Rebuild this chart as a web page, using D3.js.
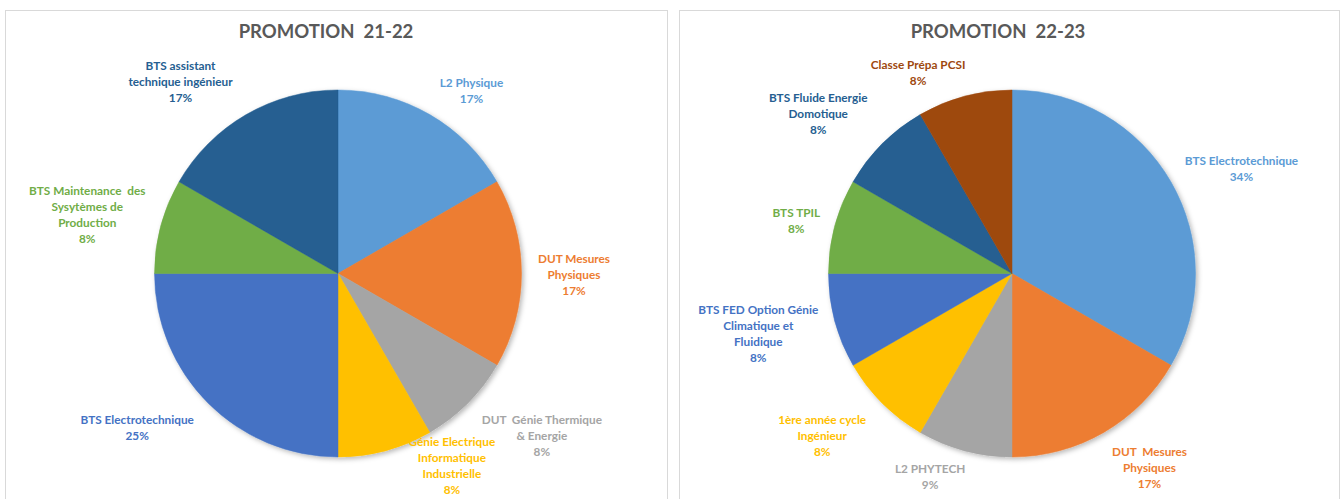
<!DOCTYPE html>
<html><head><meta charset="utf-8">
<script src="https://cdn.jsdelivr.net/npm/d3@7"></script>
<style>
html,body{margin:0;padding:0;background:#fff;}
svg{display:block;}
text{font-family:Lato,"Open Sans",sans-serif;}
</style></head>
<body><svg id="c" width="1344" height="499"></svg>
<script>
// ---- data: PROMOTION 21-22
const cats1 = [["L2 Physique"],["DUT Mesures","Physiques"],["DUT  Génie Thermique","& Energie"],["Génie Electrique","Informatique","Industrielle"],["BTS Electrotechnique"],["BTS Maintenance  des","Sysytèmes de","Production"],["BTS assistant","technique ingénieur"]];
const vals1 = [2,2,1,1,3,1,2];
const pct1 = ["17%","17%","8%","8%","25%","8%","17%"];
// ---- data: PROMOTION 22-23
const cats2 = [["BTS Electrotechnique"],["DUT  Mesures","Physiques"],["L2 PHYTECH"],["1ère année cycle","Ingénieur"],["BTS FED Option Génie","Climatique et","Fluidique"],["BTS TPIL"],["BTS Fluide Energie","Domotique"],["Classe Prépa PCSI"]];
const vals2 = [4,2,1,1,1,1,1,1];
const pct2 = ["34%","17%","9%","8%","8%","8%","8%","8%"];
const titles = ["PROMOTION  21-22","PROMOTION  22-23"];

// ---- styling / layout
const colors1 = ["#5B9BD5","#ED7D31","#A5A5A5","#FFC000","#4472C4","#70AD47","#255E91"];
const colors2 = ["#5B9BD5","#ED7D31","#A5A5A5","#FFC000","#4472C4","#70AD47","#255E91","#9E480E"];
const nudge1 = [[12,28],[-7,1],[32,-9],[51,-42],[-29,-17],[-16,4],[-36,19]];
const nudge2 = [[19,17],[16,-16],[-19,-31],[-18,-9],[-19,-3],[19,10],[-22,12],[-31,34]];

const svg = d3.select("#c");
const defs = svg.append("defs");
const f = defs.append("filter").attr("id","sh").attr("x","-10%").attr("y","-10%").attr("width","130%").attr("height","130%");
f.append("feDropShadow").attr("dx",2).attr("dy",2).attr("stdDeviation",2.5).attr("flood-color","#000").attr("flood-opacity",0.28);

const panels = [
  {x:5.5, w:662, cx:338, tx:326, title:titles[0], cats:cats1, vals:vals1, pct:pct1, colors:colors1, nudge:nudge1},
  {x:679.5, w:660, cx:1012, tx:998, title:titles[1], cats:cats2, vals:vals2, pct:pct2, colors:colors2, nudge:nudge2}
];
const cy = 273.5, R = 183.5, labelR = 243, lh = 16;

panels.forEach(p => {
  svg.append("rect").attr("x",p.x).attr("y",10.5).attr("width",p.w).attr("height",520)
    .attr("fill","#fff").attr("stroke","#D9D9D9").attr("stroke-width",1);
  svg.append("text").attr("x",p.tx).attr("y",38).attr("text-anchor","middle")
    .attr("font-size",18.5).attr("font-weight",700).attr("fill","#595959")
    .style("white-space","pre").text(p.title);

  const pie = d3.pie().sort(null).value(d => d)(p.vals);
  const arc = d3.arc().innerRadius(0).outerRadius(R);
  const lab = d3.arc().innerRadius(labelR).outerRadius(labelR);
  const g = svg.append("g").attr("transform",`translate(${p.cx},${cy})`);
  g.append("g").attr("filter","url(#sh)").selectAll("path").data(pie).join("path")
    .attr("d",arc).attr("fill",(d,i)=>p.colors[i]).attr("stroke",(d,i)=>p.colors[i]).attr("stroke-width",0.5);

  pie.forEach((d,i) => {
    const c = lab.centroid(d);
    const lines = p.cats[i].concat([p.pct[i]]);
    const x = c[0] + p.nudge[i][0], y = c[1] + p.nudge[i][1];
    const t = g.append("text").attr("text-anchor","middle").attr("font-size",11.8).attr("font-weight",700)
      .attr("fill",p.colors[i]).style("white-space","pre");
    const y0 = y - (lines.length-1)*lh/2;
    lines.forEach((s,k) => t.append("tspan").attr("x",x).attr("y",y0 + k*lh).attr("dy","0.35em").text(s));
  });
});
</script></body></html>
